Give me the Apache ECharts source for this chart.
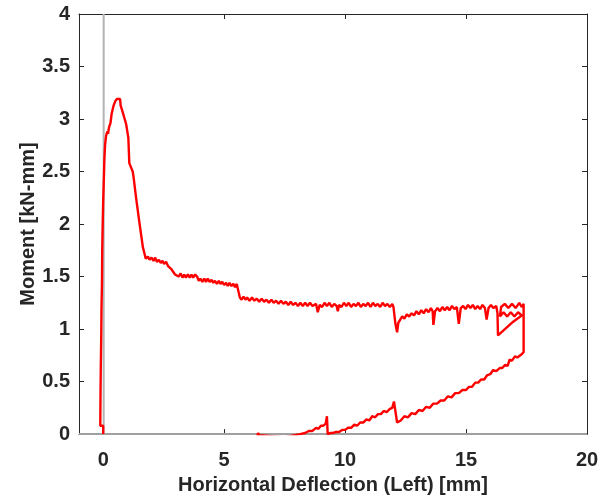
<!DOCTYPE html>
<html>
<head>
<meta charset="utf-8">
<script src="https://cdn.jsdelivr.net/npm/echarts@6/dist/echarts.min.js"></script>
<style>
  html, body { margin: 0; padding: 0; background: #fff; }
  #chart { width: 611px; height: 500px; }
</style>
</head>
<body>
<div id="chart"></div>
<script>
// Axis ticks
const xTicks = [0, 5, 10, 15, 20];
const yTicks = [0, 0.5, 1, 1.5, 2, 2.5, 3, 3.5, 4];

// Reference lines (grey): x = 0 trace and the zero baseline
const greyVertical = [[0.02, 0], [0.02, 4]];
const greyBaseline = [[-1, 0], [20, 0]];

// Moment vs. horizontal deflection (left) [mm, kN-mm]
const loading = [
  [0.00, 0.00], [0.00, 0.08], [-0.12, 0.08], [-0.11, 0.40], [-0.10, 0.62], [-0.08, 0.95],
  [-0.07, 1.20], [-0.05, 1.45], [-0.04, 1.75], [-0.02, 2.00], [0.00, 2.22], [0.03, 2.45],
  [0.05, 2.62], [0.08, 2.76], [0.12, 2.84], [0.17, 2.88], [0.20, 2.86], [0.24, 2.92],
  [0.30, 2.96], [0.35, 3.05], [0.42, 3.12], [0.50, 3.17], [0.56, 3.19], [0.64, 3.20],
  [0.70, 3.19], [0.72, 3.13], [0.80, 3.07], [0.95, 2.95], [1.04, 2.82], [1.08, 2.58],
  [1.15, 2.54], [1.22, 2.50], [1.26, 2.44], [1.36, 2.25], [1.50, 2.01], [1.64, 1.78],
  [1.76, 1.67]
];
const plateau = [
  [1.85, 1.69], [1.92, 1.66], [2.00, 1.68], [2.08, 1.65], [2.15, 1.68], [2.22, 1.64],
  [2.30, 1.66], [2.38, 1.63], [2.45, 1.65], [2.52, 1.62], [2.60, 1.64], [2.68, 1.60],
  [2.75, 1.61], [2.82, 1.57], [2.90, 1.56], [2.97, 1.52], [3.05, 1.53], [3.12, 1.50],
  [3.20, 1.53], [3.28, 1.49], [3.35, 1.52], [3.42, 1.49], [3.50, 1.52], [3.58, 1.49],
  [3.65, 1.52], [3.72, 1.49], [3.80, 1.52], [3.88, 1.50], [3.95, 1.46], [4.02, 1.48],
  [4.10, 1.45], [4.18, 1.48], [4.25, 1.45], [4.32, 1.48], [4.40, 1.45], [4.48, 1.47],
  [4.55, 1.44], [4.62, 1.46], [4.70, 1.43], [4.78, 1.46], [4.85, 1.43], [4.92, 1.45],
  [5.00, 1.42], [5.08, 1.44], [5.15, 1.41], [5.22, 1.44], [5.30, 1.41], [5.38, 1.43],
  [5.45, 1.40], [5.52, 1.43], [5.60, 1.42], [5.65, 1.30], [5.72, 1.28], [5.80, 1.31],
  [5.88, 1.28], [5.95, 1.30], [6.05, 1.27], [6.15, 1.30], [6.25, 1.27], [6.35, 1.29],
  [6.45, 1.26], [6.55, 1.29], [6.65, 1.26], [6.75, 1.28], [6.85, 1.25], [6.95, 1.28],
  [7.05, 1.25], [7.15, 1.27], [7.25, 1.24], [7.35, 1.27], [7.45, 1.24], [7.55, 1.26],
  [7.65, 1.23], [7.75, 1.26], [7.85, 1.23], [7.95, 1.25], [8.05, 1.22], [8.15, 1.25],
  [8.25, 1.22], [8.35, 1.25], [8.45, 1.22], [8.55, 1.25], [8.65, 1.22], [8.80, 1.24],
  [8.87, 1.16], [8.95, 1.23], [9.05, 1.21], [9.15, 1.25], [9.25, 1.22], [9.35, 1.25],
  [9.45, 1.21], [9.55, 1.24], [9.65, 1.22], [9.70, 1.17], [9.75, 1.23], [9.85, 1.21],
  [9.95, 1.25], [10.05, 1.22], [10.15, 1.25], [10.25, 1.21], [10.35, 1.24], [10.45, 1.22],
  [10.55, 1.25], [10.65, 1.21], [10.75, 1.24], [10.85, 1.22], [10.95, 1.25], [11.05, 1.21],
  [11.15, 1.25], [11.25, 1.22], [11.35, 1.24], [11.45, 1.21], [11.55, 1.25], [11.65, 1.22],
  [11.75, 1.24], [11.85, 1.21], [11.95, 1.24], [12.00, 1.21], [12.08, 1.05], [12.15, 0.97],
  [12.20, 1.06], [12.28, 1.09], [12.36, 1.12], [12.45, 1.10], [12.55, 1.14], [12.65, 1.12],
  [12.75, 1.15], [12.85, 1.13], [12.95, 1.17], [13.05, 1.14], [13.15, 1.18], [13.25, 1.15],
  [13.35, 1.19], [13.45, 1.16], [13.55, 1.20], [13.62, 1.17], [13.65, 1.04], [13.72, 1.17],
  [13.82, 1.20], [13.92, 1.17], [14.02, 1.21], [14.12, 1.18], [14.22, 1.21], [14.32, 1.18],
  [14.42, 1.22], [14.52, 1.19], [14.62, 1.21], [14.70, 1.05], [14.78, 1.20], [14.88, 1.22],
  [14.98, 1.19], [15.08, 1.23], [15.18, 1.20], [15.28, 1.23], [15.38, 1.19], [15.48, 1.22],
  [15.58, 1.19], [15.68, 1.23], [15.78, 1.20], [15.85, 1.09], [15.93, 1.20], [16.03, 1.23],
  [16.13, 1.20], [16.25, 1.22], [16.30, 1.15], [16.32, 0.94], [16.95, 1.07], [17.30, 1.13],
  [17.15, 1.16], [17.00, 1.12], [16.85, 1.16], [16.70, 1.12], [16.55, 1.16], [16.40, 1.12],
  [16.45, 1.21], [16.60, 1.24], [16.75, 1.20], [16.90, 1.24], [17.05, 1.20], [17.20, 1.25],
  [17.30, 1.21], [17.38, 1.24]
];
const unloading = [
  [17.38, 0.78], [17.30, 0.76], [17.22, 0.77], [17.12, 0.73], [17.02, 0.74], [16.90, 0.70],
  [16.80, 0.71], [16.72, 0.65], [16.62, 0.66], [16.50, 0.63], [16.40, 0.63], [16.25, 0.60],
  [16.12, 0.61], [16.00, 0.57], [15.87, 0.56], [15.75, 0.52], [15.62, 0.52], [15.50, 0.49],
  [15.38, 0.49], [15.25, 0.45], [15.12, 0.45], [15.00, 0.42], [14.85, 0.42], [14.70, 0.39],
  [14.55, 0.39], [14.40, 0.35], [14.25, 0.36], [14.10, 0.32], [13.95, 0.32], [13.80, 0.29],
  [13.64, 0.29], [13.50, 0.25], [13.35, 0.26], [13.20, 0.22], [13.05, 0.23], [12.90, 0.19],
  [12.75, 0.20], [12.60, 0.16], [12.45, 0.17], [12.30, 0.13], [12.15, 0.11], [12.02, 0.31],
  [11.95, 0.25], [11.85, 0.24], [11.72, 0.21], [11.60, 0.22], [11.48, 0.19], [11.36, 0.19],
  [11.24, 0.16], [11.12, 0.17], [11.00, 0.13], [10.88, 0.14], [10.75, 0.11], [10.62, 0.11],
  [10.50, 0.08], [10.38, 0.09], [10.25, 0.06], [10.12, 0.06], [10.00, 0.04], [9.88, 0.04],
  [9.75, 0.02], [9.62, 0.02], [9.48, 0.01], [9.38, 0.01], [9.28, 0.00], [9.25, 0.17],
  [9.20, 0.10], [9.10, 0.08], [9.00, 0.08], [8.90, 0.05], [8.80, 0.06], [8.65, 0.03],
  [8.50, 0.03], [8.35, 0.01], [8.14, 0.00], [7.50, -0.03], [6.45, -0.01], [6.40, 0.01],
  [6.35, -0.05]
];

const redTrace = loading.concat(plateau, unloading);

const axisColor = '#262626';
const font = 'Liberation Sans, Arial, Helvetica, sans-serif';

const chart = echarts.init(document.getElementById('chart'), null, { renderer: 'canvas' });
chart.setOption({
  animation: false,
  backgroundColor: '#fff',
  grid: { left: 79, right: 24, top: 14, bottom: 65, containLabel: false },
  xAxis: [
    {
      type: 'value', min: -1, max: 20, position: 'bottom',
      name: 'Horizontal Deflection (Left) [mm]', nameLocation: 'middle', nameGap: 40,
      nameTextStyle: { color: axisColor, fontSize: 20, fontWeight: 'bold', fontFamily: font },
      axisLine: { show: true, onZero: false, lineStyle: { color: axisColor, width: 1 } },
      axisTick: { show: true, inside: true, length: 5, customValues: xTicks, lineStyle: { color: axisColor } },
      axisLabel: { show: true, customValues: xTicks, margin: 16, color: axisColor, fontSize: 20, fontWeight: 'bold', fontFamily: font },
      splitLine: { show: false }
    },
    {
      type: 'value', min: -1, max: 20, position: 'top',
      axisLine: { show: true, onZero: false, lineStyle: { color: axisColor, width: 1 } },
      axisTick: { show: true, inside: true, length: 5, customValues: xTicks, lineStyle: { color: axisColor } },
      axisLabel: { show: false },
      splitLine: { show: false }
    }
  ],
  yAxis: [
    {
      type: 'value', min: 0, max: 4, interval: 0.5, position: 'left',
      name: 'Moment [kN-mm]', nameLocation: 'middle', nameGap: 41, nameRotate: 90,
      nameMoveOverlap: false,
      nameTextStyle: { color: axisColor, fontSize: 20, fontWeight: 'bold', fontFamily: font },
      axisLine: { show: true, onZero: false, lineStyle: { color: axisColor, width: 1 } },
      axisTick: { show: true, inside: true, length: 5, lineStyle: { color: axisColor } },
      axisLabel: {
        show: true, margin: 9, color: axisColor, fontSize: 20, fontWeight: 'bold', fontFamily: font,
        formatter: v => String(v)
      },
      splitLine: { show: false }
    },
    {
      type: 'value', min: 0, max: 4, interval: 0.5, position: 'right',
      axisLine: { show: true, onZero: false, lineStyle: { color: axisColor, width: 1 } },
      axisTick: { show: true, inside: true, length: 5, lineStyle: { color: axisColor } },
      axisLabel: { show: false },
      splitLine: { show: false }
    }
  ],
  series: [
    {
      type: 'line', data: greyBaseline, xAxisIndex: 0, yAxisIndex: 0,
      showSymbol: false, symbol: 'none', silent: true,
      lineStyle: { color: '#a0a0a0', width: 2 }, z: 1
    },
    {
      type: 'line', data: greyVertical, xAxisIndex: 0, yAxisIndex: 0,
      showSymbol: false, symbol: 'none', silent: true,
      lineStyle: { color: '#b4b4b4', width: 2 }, z: 1
    },
    {
      type: 'line', data: redTrace, xAxisIndex: 0, yAxisIndex: 0,
      showSymbol: false, symbol: 'none', clip: true,
      lineStyle: { color: '#ff0000', width: 2.4 }, z: 3
    }
  ]
});
</script>
</body>
</html>
